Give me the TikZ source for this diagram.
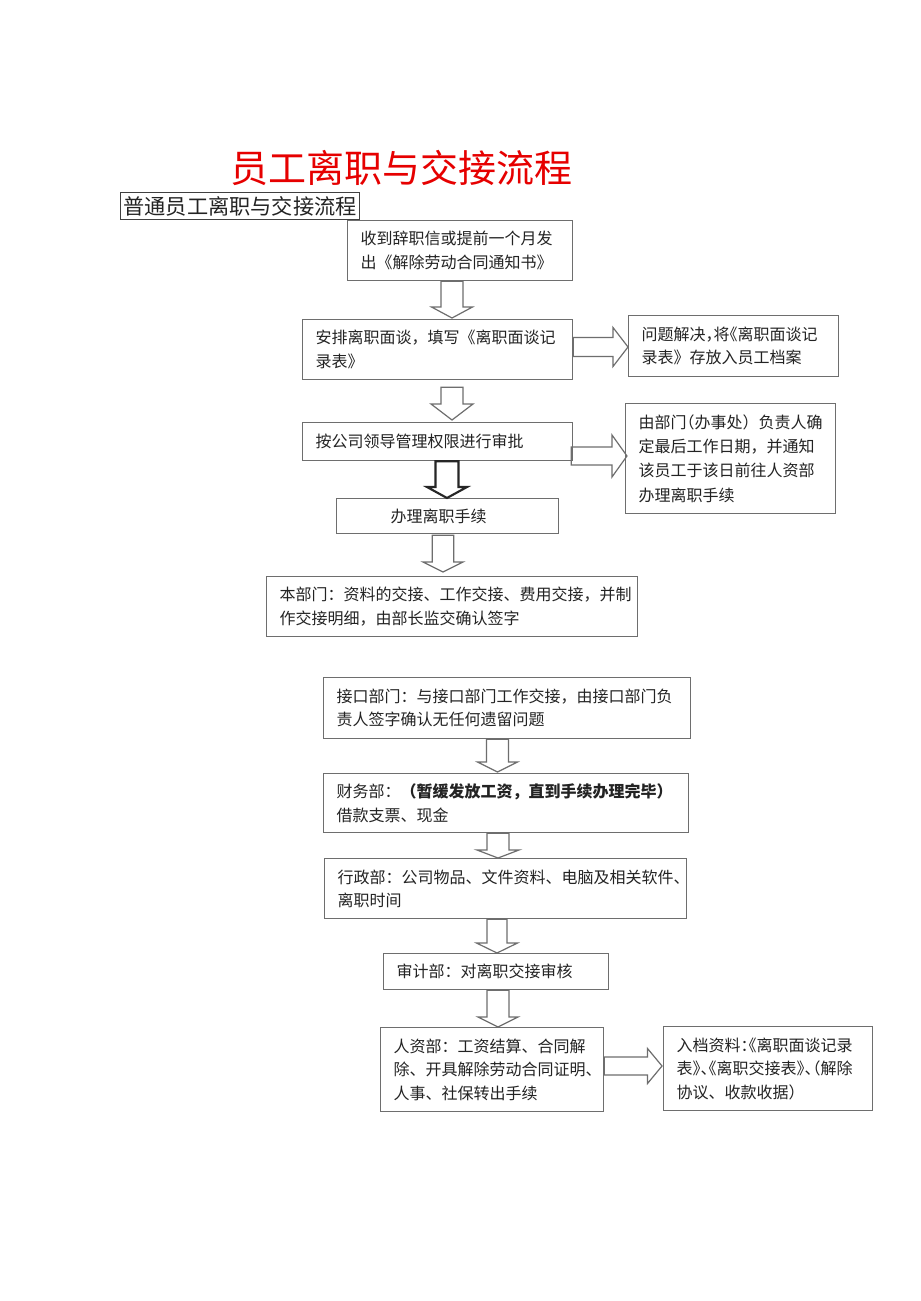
\documentclass[tikz,border=0pt]{standalone}
\usepackage{fontspec}
\setmainfont{Noto Sans CJK SC}
\newfontfamily\cjkh[RawFeature=+halt]{Noto Sans CJK SC}
\newcommand\hw[1]{{\cjkh #1}}
\usetikzlibrary{calc}
\definecolor{boxgray}{RGB}{110,110,110}
\definecolor{txt}{RGB}{35,35,35}
\definecolor{titlered}{RGB}{230,0,0}
% vertical hollow block arrow: [style]{from}{to}{x}{shaft half}{head half}{head len}{gap top}{gap bottom}
\newcommand\vblock[9][barrow]{%
  \coordinate (vx) at (#4,0);
  \coordinate (vs) at ($(#2.south -| vx)+(0,#8)$);
  \coordinate (ve) at ($(#3.north -| vx)+(0,-#9)$);
  \draw[#1] ($(vs)+(-#5,0)$) -- ($(ve)+(-#5,-#7)$) -- ($(ve)+(-#6,-#7)$) -- (ve)
    -- ($(ve)+(#6,-#7)$) -- ($(ve)+(#5,-#7)$) -- ($(vs)+(#5,0)$) -- cycle;
}
% horizontal hollow block arrow: {from}{to}{y}{shaft half}{head half}{head len}{gap start}{gap end}
\newcommand\hblock[8]{%
  \coordinate (hy) at (0,#3);
  \coordinate (hs) at ($(#1.east |- hy)+(#7,0)$);
  \coordinate (he) at ($(#2.west |- hy)+(-#8,0)$);
  \draw[barrow] ($(hs)+(0,-#4)$) -- ($(he)+(-#6,-#4)$) -- ($(he)+(-#6,-#5)$) -- (he)
    -- ($(he)+(-#6,#5)$) -- ($(he)+(-#6,#4)$) -- ($(hs)+(0,#4)$) -- cycle;
}
\begin{document}
\begin{tikzpicture}[x=0.75pt,y=-0.75pt,
  box/.style={draw=boxgray,line width=0.9pt,anchor=north west,inner xsep=9.75pt,inner ysep=0pt,
    align=left,text=txt,font=\fontsize{12pt}{17.6pt}\selectfont},
  barrow/.style={draw=boxgray,line width=0.9pt,line join=miter},
  boldarrow/.style={draw=black!85,line width=1.6pt,line join=miter}]
\useasboundingbox[fill=white] (0,0) rectangle (920,1301);

\node[text=titlered,font=\fontsize{28.5pt}{30pt}\selectfont] (title) at (401,168) {员工离职与交接流程};
\node[draw=black!75,line width=0.8pt,minimum width=179.25pt,minimum height=20.25pt,inner sep=0pt,
  anchor=north west,text=txt,font=\fontsize{15.9pt}{17pt}\selectfont] (sub) at (120,192) {普通员工离职与交接流程};

\node[box,text width=149.25pt,minimum height=45pt] (b1) at (347,220) {收到辞职信或提前一个月发\\出《解除劳动合同通知书》};
\node[box,text width=183pt,minimum height=45pt] (b2) at (302,319) {安排离职面谈，填写《离职面谈记\\录表》};
\node[box,text width=138pt,minimum height=45.75pt] (rb1) at (628,315) {问题解决\hw{，}将\hw{《}离职面谈记\\录表》存放入员工档案};
\node[box,text width=183pt,minimum height=28.5pt] (b3) at (302,422) {按公司领导管理权限进行审批};
\node[box,text width=138pt,minimum height=82.5pt,font=\fontsize{12pt}{18.2pt}\selectfont] (rb2) at (625,403) {由部门\hw{（}办事处）负责人确\\定最后工作日期，并通知\\该员工于该日前往人资部\\办理离职手续};
\node[box,text width=147pt,minimum height=26.25pt] (b4) at (336,498) {\hspace*{30.75pt}办理离职手续};
\node[box,text width=258.75pt,minimum height=45pt] (b5) at (266,576) {本部门：资料的交接、工作交接、费用交接，并制\\作交接明细，由部长监交确认签字};

\node[box,text width=255.75pt,minimum height=45.75pt] (b6) at (323,677) {接口部门：与接口部门工作交接，由接口部门负\\责人签字确认无任何遗留问题};
\node[box,text width=254.25pt,minimum height=44.25pt] (b7) at (323,773) {财务部：{\bfseries（暂缓发放工资，直到手续办理完毕）}\\借款支票、现金};
\node[box,text width=252pt,minimum height=45pt] (b8) at (324,858) {行政部：公司物品、文件资料、电脑及相关软件、\\离职时间};
\node[box,text width=149.25pt,minimum height=27pt] (b9) at (383,953) {审计部：对离职交接审核};
\node[box,text width=147.75pt,minimum height=63pt] (b10) at (380,1027) {人资部：工资结算、合同解\\除、开具解除劳动合同证明、\\人事、社保转出手续};
\node[box,text width=137.25pt,minimum height=63pt] (b11) at (663,1026) {入档资料\hw{：《}离职面谈记录\\表\hw{》、《}离职交接表\hw{》、（}解除\\协议、收款收据）};

\vblock{b1}{b2}{452}{11}{20.5}{11}{0}{1}
\vblock{b2}{b3}{452}{11}{21}{16}{7}{2}
\vblock[boldarrow]{b3}{b4}{447}{11.5}{20}{11}{0}{0}
\vblock{b4}{b5}{443}{10.8}{20}{10}{1}{4}
\vblock{b6}{b7}{497.5}{11}{20}{10}{0}{1}
\vblock{b7}{b8}{498}{11}{21}{8}{0}{0}
\vblock{b8}{b9}{497}{10}{20.5}{10}{0}{0}
\vblock{b9}{b10}{498}{11}{20}{10}{0}{0}

\hblock{b2}{rb1}{347}{9.5}{19.5}{15}{0}{0}
\hblock{b3}{rb2}{456}{9}{21}{15}{-2}{-2}
\hblock{b10}{b11}{1066}{9}{17.5}{14.5}{0}{1}
\end{tikzpicture}
\end{document}
